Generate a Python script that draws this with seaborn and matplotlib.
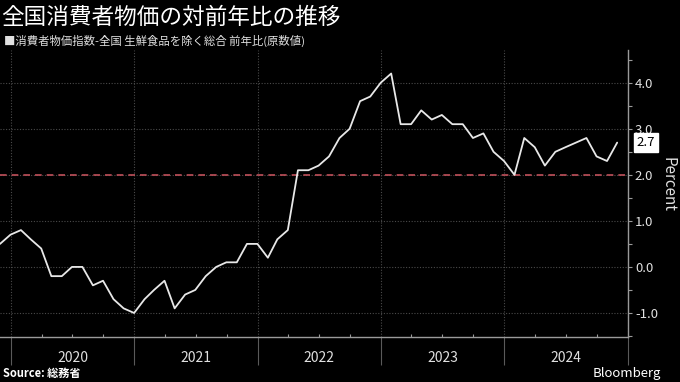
import pandas as pd
import numpy as np
import seaborn as sns
import matplotlib.pyplot as plt
import matplotlib.dates as mdates
import matplotlib.transforms as mtransforms

# core CPI yoy (%), monthly Nov 2019 - Nov 2024
cpi = [0.5, 0.7,
       0.8, 0.6, 0.4, -0.2, -0.2, 0.0, 0.0, -0.4, -0.3, -0.7, -0.9, -1.0,
       -0.7, -0.5, -0.3, -0.9, -0.6, -0.5, -0.2, 0.0, 0.1, 0.1, 0.5, 0.5,
       0.2, 0.6, 0.8, 2.1, 2.1, 2.2, 2.4, 2.8, 3.0, 3.6, 3.7, 4.0,
       4.2, 3.1, 3.1, 3.4, 3.2, 3.3, 3.1, 3.1, 2.8, 2.9, 2.5, 2.3,
       2.0, 2.8, 2.6, 2.2, 2.5, 2.6, 2.7, 2.8, 2.4, 2.3, 2.7]
dates = pd.date_range("2019-11-30", periods=len(cpi), freq="ME")
years = [2020, 2021, 2022, 2023, 2024]
yticks = [-1.0, 0.0, 1.0, 2.0, 3.0, 4.0]
target = 2.0

df = pd.DataFrame({"date": dates, "cpi": cpi})

sns.set_theme(style="dark")
plt.rcParams["font.family"] = ["Noto Sans CJK JP", "DejaVu Sans"]
plt.rcParams["axes.facecolor"] = "black"
plt.rcParams["figure.facecolor"] = "black"

fig = plt.figure(figsize=(6.8, 3.82), dpi=100)
ax = fig.add_axes([0.0, 0.118, 0.9235, 0.751])
ax.set_facecolor("black")

sns.lineplot(data=df, x="date", y="cpi", ax=ax, color="#e8e8e8", linewidth=1.3)
ax.axhline(target, color="#c0505a", linestyle=(0, (4, 3)), linewidth=1.2, zorder=1)

ax.set_xlim(pd.Timestamp("2019-11-30"), pd.Timestamp("2025-01-01"))
ax.set_ylim(-1.52, 4.71)

# axes cosmetics
for s in ["left", "top"]:
    ax.spines[s].set_visible(False)
for s in ["right", "bottom"]:
    ax.spines[s].set_visible(True)
    ax.spines[s].set_color("#9a9a9a")
    ax.spines[s].set_linewidth(1.0)

ax.yaxis.tick_right()
ax.set_yticks(yticks)
ax.set_yticklabels([f"{v:.1f}" for v in yticks], color="#e0e0e0", fontsize=9.5)
ax.set_yticks(np.arange(-1.5, 4.6, 1.0), minor=True)
ax.tick_params(axis="y", which="both", right=True, length=3, width=0.8,
               color="#9a9a9a", pad=2)

year_starts = [pd.Timestamp(f"{y}-01-01") for y in years] + [pd.Timestamp(f"{years[-1] + 1}-01-01")]
ax.set_xticks(year_starts)
ax.set_xticklabels([])
ax.xaxis.set_minor_locator(mdates.MonthLocator(bymonth=[4, 7, 10]))
ax.tick_params(axis="x", which="major", bottom=True, length=20, width=0.8, color="#5a5a5a")
ax.tick_params(axis="x", which="minor", bottom=True, direction="in", length=2.5, width=0.8, color="#9a9a9a")

ax.grid(True, which="major", axis="both", color="#4a4a4a", linestyle=(0, (1, 1.5)), linewidth=0.8)
ax.set_xlabel("")
ax.set_ylabel("")

trans = mtransforms.blended_transform_factory(ax.transData, ax.transAxes)
for y in years:
    ax.text(pd.Timestamp(f"{y}-07-02"), -0.075, str(y), transform=trans,
            ha="center", va="center", color="#e0e0e0", fontsize=10)

# last value label
ax.text(1.014, cpi[-1], f"{cpi[-1]:.1f}", transform=mtransforms.blended_transform_factory(ax.transAxes, ax.transData),
        ha="left", va="center", color="black", fontsize=9.5,
        bbox=dict(boxstyle="square,pad=0.22", facecolor="white", edgecolor="white"))

fig.text(0.982, 0.516, "Percent", rotation=-90, ha="center", va="center", color="#e0e0e0", fontsize=11)

fig.text(0.002, 0.955, "全国消費者物価の対前年比の推移", ha="left", va="center", color="white", fontsize=16.3)
fig.text(0.006, 0.893, "■消費者物価指数-全国 生鮮食品を除く総合 前年比(原数値)", ha="left", va="center",
         color="#e0e0e0", fontsize=8.2)
fig.text(0.004, 0.022, "Source: 総務省", ha="left", va="center", color="white", fontsize=8, fontweight="bold")
fig.text(0.972, 0.022, "Bloomberg", ha="right", va="center", color="white", fontsize=9.5)

fig.savefig("out.png", dpi=100, facecolor="black")
